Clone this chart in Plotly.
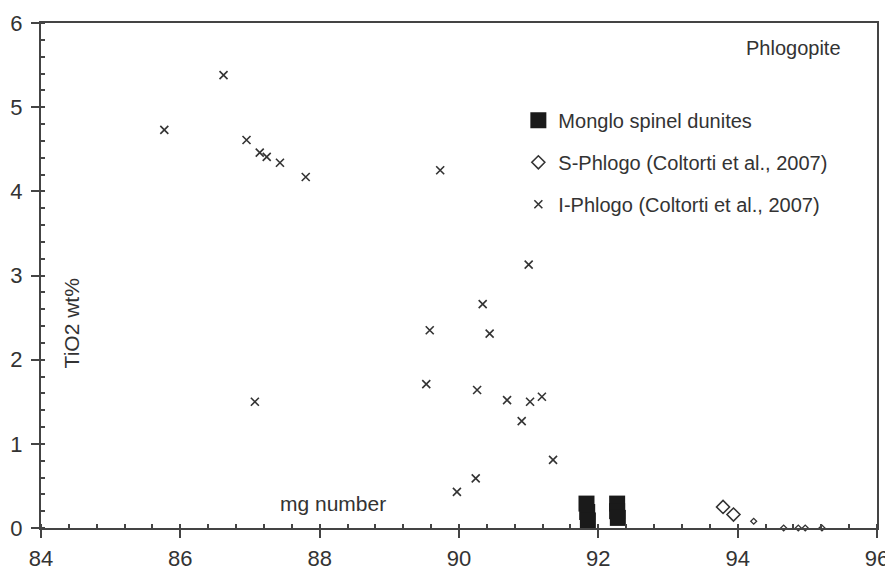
import plotly.graph_objects as go

# Monglo spinel dunites (mg number, TiO2 wt%)
monglo_mg = [91.83, 91.84, 91.85, 92.27, 92.27, 92.28]
monglo_ti = [0.29, 0.19, 0.09, 0.29, 0.20, 0.12]

# S-Phlogo (Coltorti et al., 2007) - the two larger symbols, then the small ones
s_phlogo_mg = [93.79, 93.94]
s_phlogo_ti = [0.25, 0.16]
s_phlogo_small_mg = [94.23, 94.66, 94.87, 94.97, 95.21]
s_phlogo_small_ti = [0.08, 0.0, 0.0, 0.0, 0.0]

# I-Phlogo (Coltorti et al., 2007)
i_phlogo_mg = [85.77, 86.62, 86.95, 87.14, 87.24, 87.43, 87.80, 89.73, 91.00, 90.34, 89.58,
               90.44, 87.07, 89.53, 90.26, 90.69, 91.02, 91.19, 90.90, 91.35, 89.97, 90.24]
i_phlogo_ti = [4.73, 5.38, 4.61, 4.46, 4.41, 4.34, 4.17, 4.25, 3.13, 2.66, 2.35,
               2.31, 1.50, 1.71, 1.64, 1.52, 1.50, 1.56, 1.27, 0.81, 0.43, 0.59]

ink = "#333333"
font = "Liberation Sans, Arial, sans-serif"

fig = go.Figure()

fig.add_trace(go.Scatter(
    x=monglo_mg, y=monglo_ti, mode="markers", name="Monglo spinel dunites",
    legendgroup="a", cliponaxis=False,
    marker=dict(symbol="square", size=16, color="#1a1a1a", line=dict(width=0))))

fig.add_trace(go.Scatter(
    x=s_phlogo_mg, y=s_phlogo_ti, mode="markers", name="S-Phlogo (Coltorti et al., 2007)",
    legendgroup="b", cliponaxis=False,
    marker=dict(symbol="diamond-open", size=10, color=ink, line=dict(width=1.6, color=ink))))
fig.add_trace(go.Scatter(
    x=s_phlogo_small_mg, y=s_phlogo_small_ti, mode="markers", name="S-Phlogo (Coltorti et al., 2007)",
    legendgroup="b", showlegend=False, cliponaxis=False,
    marker=dict(symbol="diamond-open", size=4.5, color=ink, line=dict(width=1.3, color=ink))))

fig.add_trace(go.Scatter(
    x=i_phlogo_mg, y=i_phlogo_ti, mode="markers", name="I-Phlogo (Coltorti et al., 2007)",
    legendgroup="c", cliponaxis=False,
    marker=dict(symbol="x-thin", size=8, color=ink, line=dict(width=1.6, color=ink))))

axis_style = dict(
    showline=True, linewidth=2, linecolor="#444444", mirror=True,
    ticks="outside", ticklen=8, tickwidth=1.5, tickcolor="#444444",
    showgrid=False, zeroline=False, automargin=False,
    tickfont=dict(family=font, size=22, color=ink),
)

fig.update_xaxes(range=[84, 96], dtick=2, ticklabelstandoff=2,
                 minor=dict(dtick=0.4, ticks="inside", ticklen=4, tickwidth=1.5, tickcolor="#444444"),
                 **axis_style)
fig.update_yaxes(range=[0, 6], dtick=1, ticklabelstandoff=4,
                 minor=dict(dtick=0.2, ticks="inside", ticklen=4, tickwidth=1.5, tickcolor="#444444"),
                 **axis_style)

fig.add_annotation(text="Phlogopite", x=0.959, y=0.95, xref="paper", yref="paper",
                   xanchor="right", yanchor="middle", showarrow=False,
                   font=dict(family=font, size=20, color=ink))
fig.add_annotation(text="mg number", x=0.349, y=0.048, xref="paper", yref="paper",
                   xanchor="center", yanchor="middle", showarrow=False,
                   font=dict(family=font, size=21, color=ink))
fig.add_annotation(text="TiO2 wt%", x=0.037, y=0.405, xref="paper", yref="paper",
                   xanchor="center", yanchor="middle", showarrow=False, textangle=-90,
                   font=dict(family=font, size=21, color=ink))

# the page body adds an 8px offset, so the figure is 8px smaller each way
fig.update_layout(
    width=885, height=562,
    margin=dict(l=33, r=16, t=15, b=42),
    paper_bgcolor="white", plot_bgcolor="white",
    showlegend=True,
    legend=dict(x=0.571, y=0.846, xanchor="left", yanchor="top",
                traceorder="grouped", tracegroupgap=13,
                bgcolor="rgba(0,0,0,0)", borderwidth=0,
                font=dict(family=font, size=20, color=ink)),
)

fig.write_html("out.html")
